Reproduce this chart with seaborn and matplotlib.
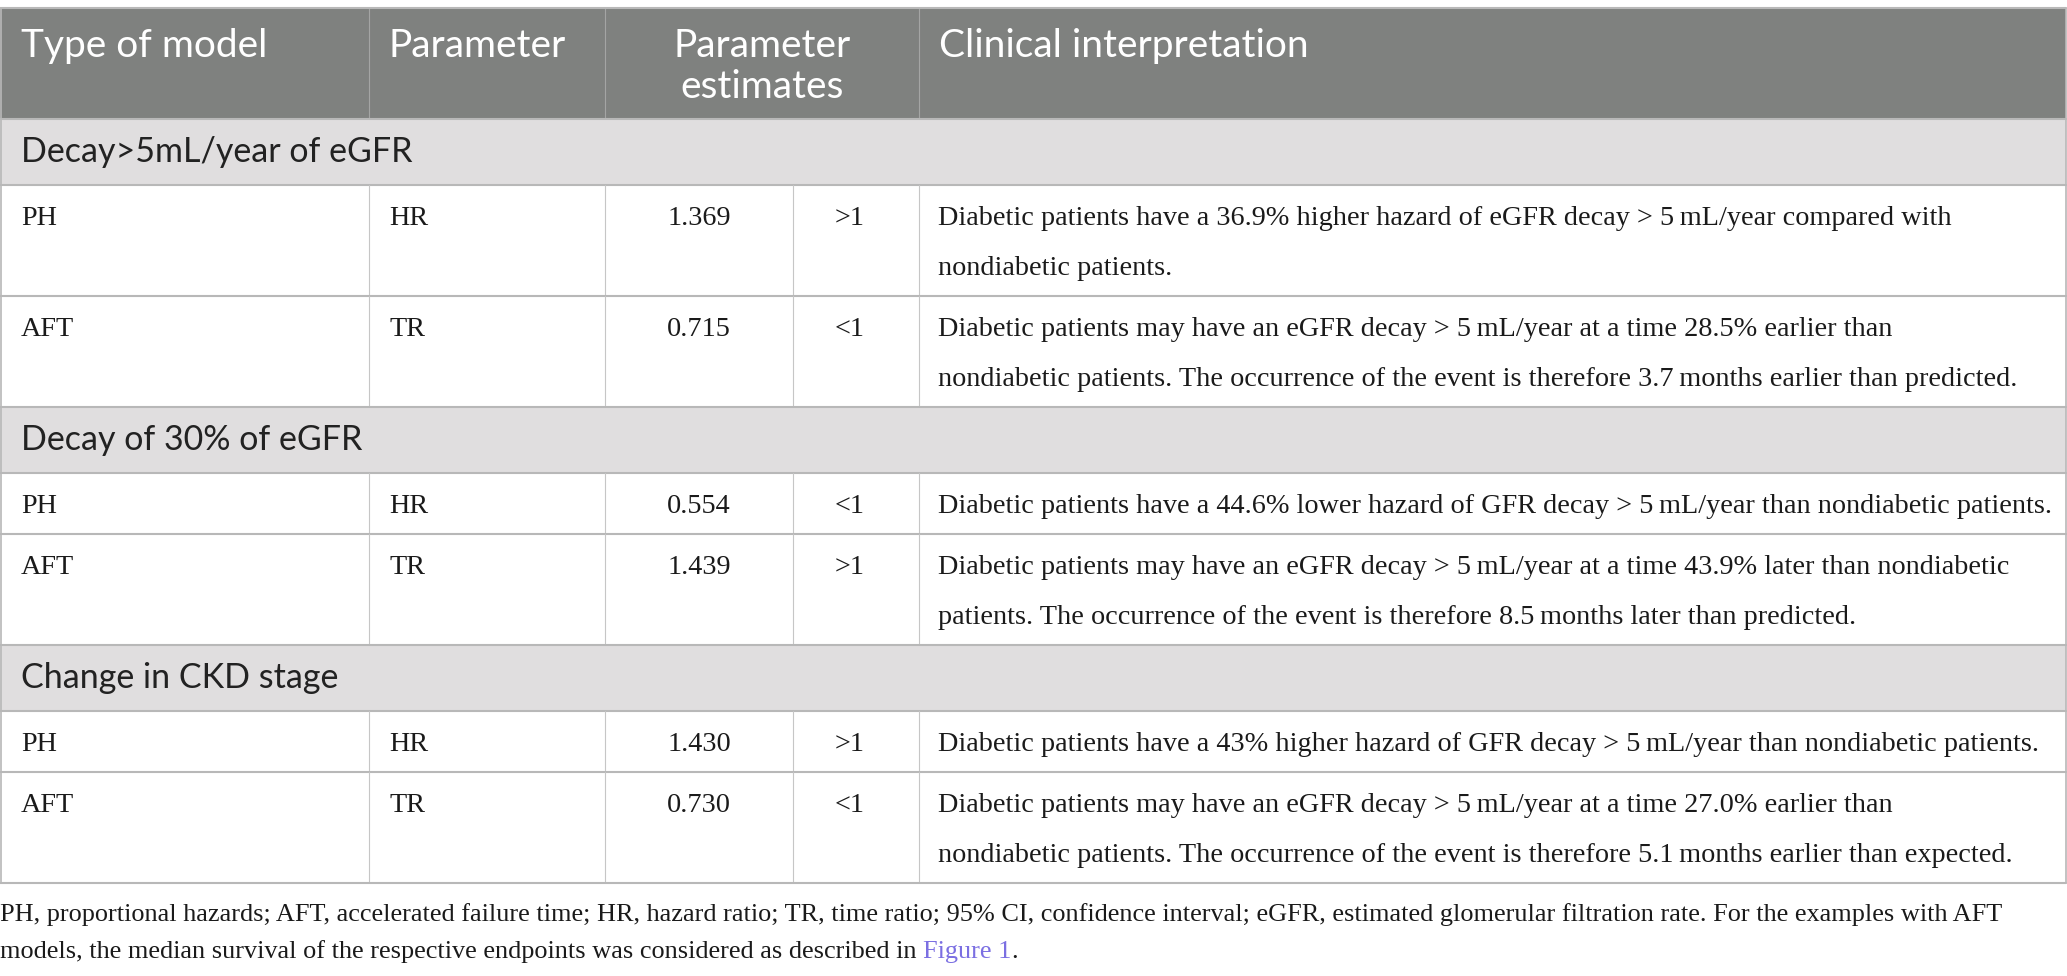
import matplotlib
matplotlib.use("Agg")
import matplotlib.pyplot as plt
import seaborn as sns

# table content (\u2009 = thin space as in the source typesetting)
columns = ["Type of model", "Parameter", "Parameter\nestimates", "Clinical interpretation"]
sections = ["Decay>5mL/year of eGFR", "Decay of 30% of eGFR", "Change in CKD stage"]
section_of_row = [0, 0, 1, 1, 2, 2]
model_type = ["PH", "AFT", "PH", "AFT", "PH", "AFT"]
parameter = ["HR", "TR", "HR", "TR", "HR", "TR"]
estimate = ["1.369", "0.715", "0.554", "1.439", "1.430", "0.730"]
threshold = [">1", "<1", "<1", ">1", ">1", "<1"]
interpretation = [
    "Diabetic patients have a 36.9% higher hazard of eGFR decay > 5\u2009mL/year compared with\nnondiabetic patients.",
    "Diabetic patients may have an eGFR decay > 5\u2009mL/year at a time 28.5% earlier than\nnondiabetic patients. The occurrence of the event is therefore 3.7\u2009months earlier than predicted.",
    "Diabetic patients have a 44.6% lower hazard of GFR decay > 5\u2009mL/year than nondiabetic patients.",
    "Diabetic patients may have an eGFR decay > 5\u2009mL/year at a time 43.9% later than nondiabetic\npatients. The occurrence of the event is therefore 8.5\u2009months later than predicted.",
    "Diabetic patients have a 43% higher hazard of GFR decay > 5\u2009mL/year than nondiabetic patients.",
    "Diabetic patients may have an eGFR decay > 5\u2009mL/year at a time 27.0% earlier than\nnondiabetic patients. The occurrence of the event is therefore 5.1\u2009months earlier than expected.",
]
footnote_1 = ("PH, proportional hazards; AFT, accelerated failure time; HR, hazard ratio; TR, time ratio; "
              "95% CI, confidence interval; eGFR, estimated glomerular filtration rate. For the examples with AFT")
footnote_2 = "models, the median survival of the respective endpoints was considered as described in "
footnote_link = "Figure 1"

sns.set_theme(style="white")

W, H = 2067, 976
fig = plt.figure(figsize=(W / 100, H / 100), dpi=100)
ax = fig.add_axes([0, 0, 1, 1])
ax.set_xlim(0, W)
ax.set_ylim(H, 0)
ax.axis("off")

# layout in pixels
col_x = [0, 369, 605, 793, 919, 2066]
top = 8
header_h = 111
section_h = 66
line_h = 50
row_h0 = 61

head_bg = "#7f817f"
sect_bg = "#e0dedf"
hline = "#b8b8b8"
vline = "#c6c6c6"
txt = "#1a1a1a"
sans = "Lato"
serif = "Liberation Serif"
body_fs = 20.3
head_fs = 28
sect_fs = 24.5
foot_fs = 18.9

# header
ax.add_patch(plt.Rectangle((0, top), col_x[-1], header_h, color=head_bg, lw=0))
for x in [col_x[1], col_x[2], col_x[4]]:
    ax.plot([x, x], [top, top + header_h], color="#a4a5a4", lw=0.8)
ax.text(col_x[0] + 21, top + 49, columns[0], color="white", fontsize=head_fs, family=sans, va="baseline")
ax.text(col_x[1] + 20, top + 49, columns[1], color="white", fontsize=head_fs, family=sans, va="baseline")
for i, s in enumerate(columns[2].split("\n")):
    ax.text((col_x[2] + col_x[4]) / 2, top + 49 + 41 * i, s, color="white", fontsize=head_fs,
            family=sans, va="baseline", ha="center")
ax.text(col_x[4] + 20, top + 49, columns[3], color="white", fontsize=head_fs, family=sans, va="baseline")

y = top + header_h
ax.plot([0, col_x[-1]], [top, top], color=hline, lw=1.5)
ax.plot([0, col_x[-1]], [y, y], color=hline, lw=1.5)

current = -1
for i in range(len(model_type)):
    if section_of_row[i] != current:
        current = section_of_row[i]
        ax.add_patch(plt.Rectangle((0, y), col_x[-1], section_h, color=sect_bg, lw=0))
        ax.text(21, y + section_h / 2 + 10, sections[current], color="#222222", fontsize=sect_fs,
                family=sans, va="baseline")
        y += section_h
        ax.plot([0, col_x[-1]], [y, y], color=hline, lw=1.5)
    lines = interpretation[i].split("\n")
    h = row_h0 + line_h * (len(lines) - 1)
    base = y + 40
    ax.text(col_x[0] + 21, base, model_type[i], fontsize=body_fs, family=serif, color=txt, va="baseline")
    ax.text(col_x[1] + 20, base, parameter[i], fontsize=body_fs, family=serif, color=txt, va="baseline")
    ax.text((col_x[2] + col_x[3]) / 2, base, estimate[i], fontsize=body_fs, family=serif, color=txt,
            va="baseline", ha="center")
    ax.text((col_x[3] + col_x[4]) / 2 - 6, base, threshold[i], fontsize=body_fs, family=serif, color=txt,
            va="baseline", ha="center")
    for k, ln in enumerate(lines):
        ax.text(col_x[4] + 19, base + line_h * k, ln, fontsize=body_fs, family=serif, color=txt,
                va="baseline")
    for x in col_x[1:5]:
        ax.plot([x, x], [y, y + h], color=vline, lw=0.8)
    y += h
    ax.plot([0, col_x[-1]], [y, y], color=hline, lw=1.5)

# outer border
ax.plot([0.5, 0.5], [top, y], color=hline, lw=1.2)
ax.plot([col_x[-1], col_x[-1]], [top, y], color=hline, lw=1.2)

# footnote
ax.text(0, y + 38, footnote_1, fontsize=foot_fs, family=serif, color=txt, va="baseline")
t2 = ax.text(0, y + 75, footnote_2, fontsize=foot_fs, family=serif, color=txt, va="baseline")
t3 = ax.annotate(footnote_link, xy=(1, 0), xycoords=t2, fontsize=foot_fs, family=serif,
                 color="#7b6fe2", va="bottom", ha="left")
ax.annotate(".", xy=(1, 0), xycoords=t3, fontsize=foot_fs, family=serif, color=txt,
            va="bottom", ha="left")

fig.savefig("out.png", dpi=100)
